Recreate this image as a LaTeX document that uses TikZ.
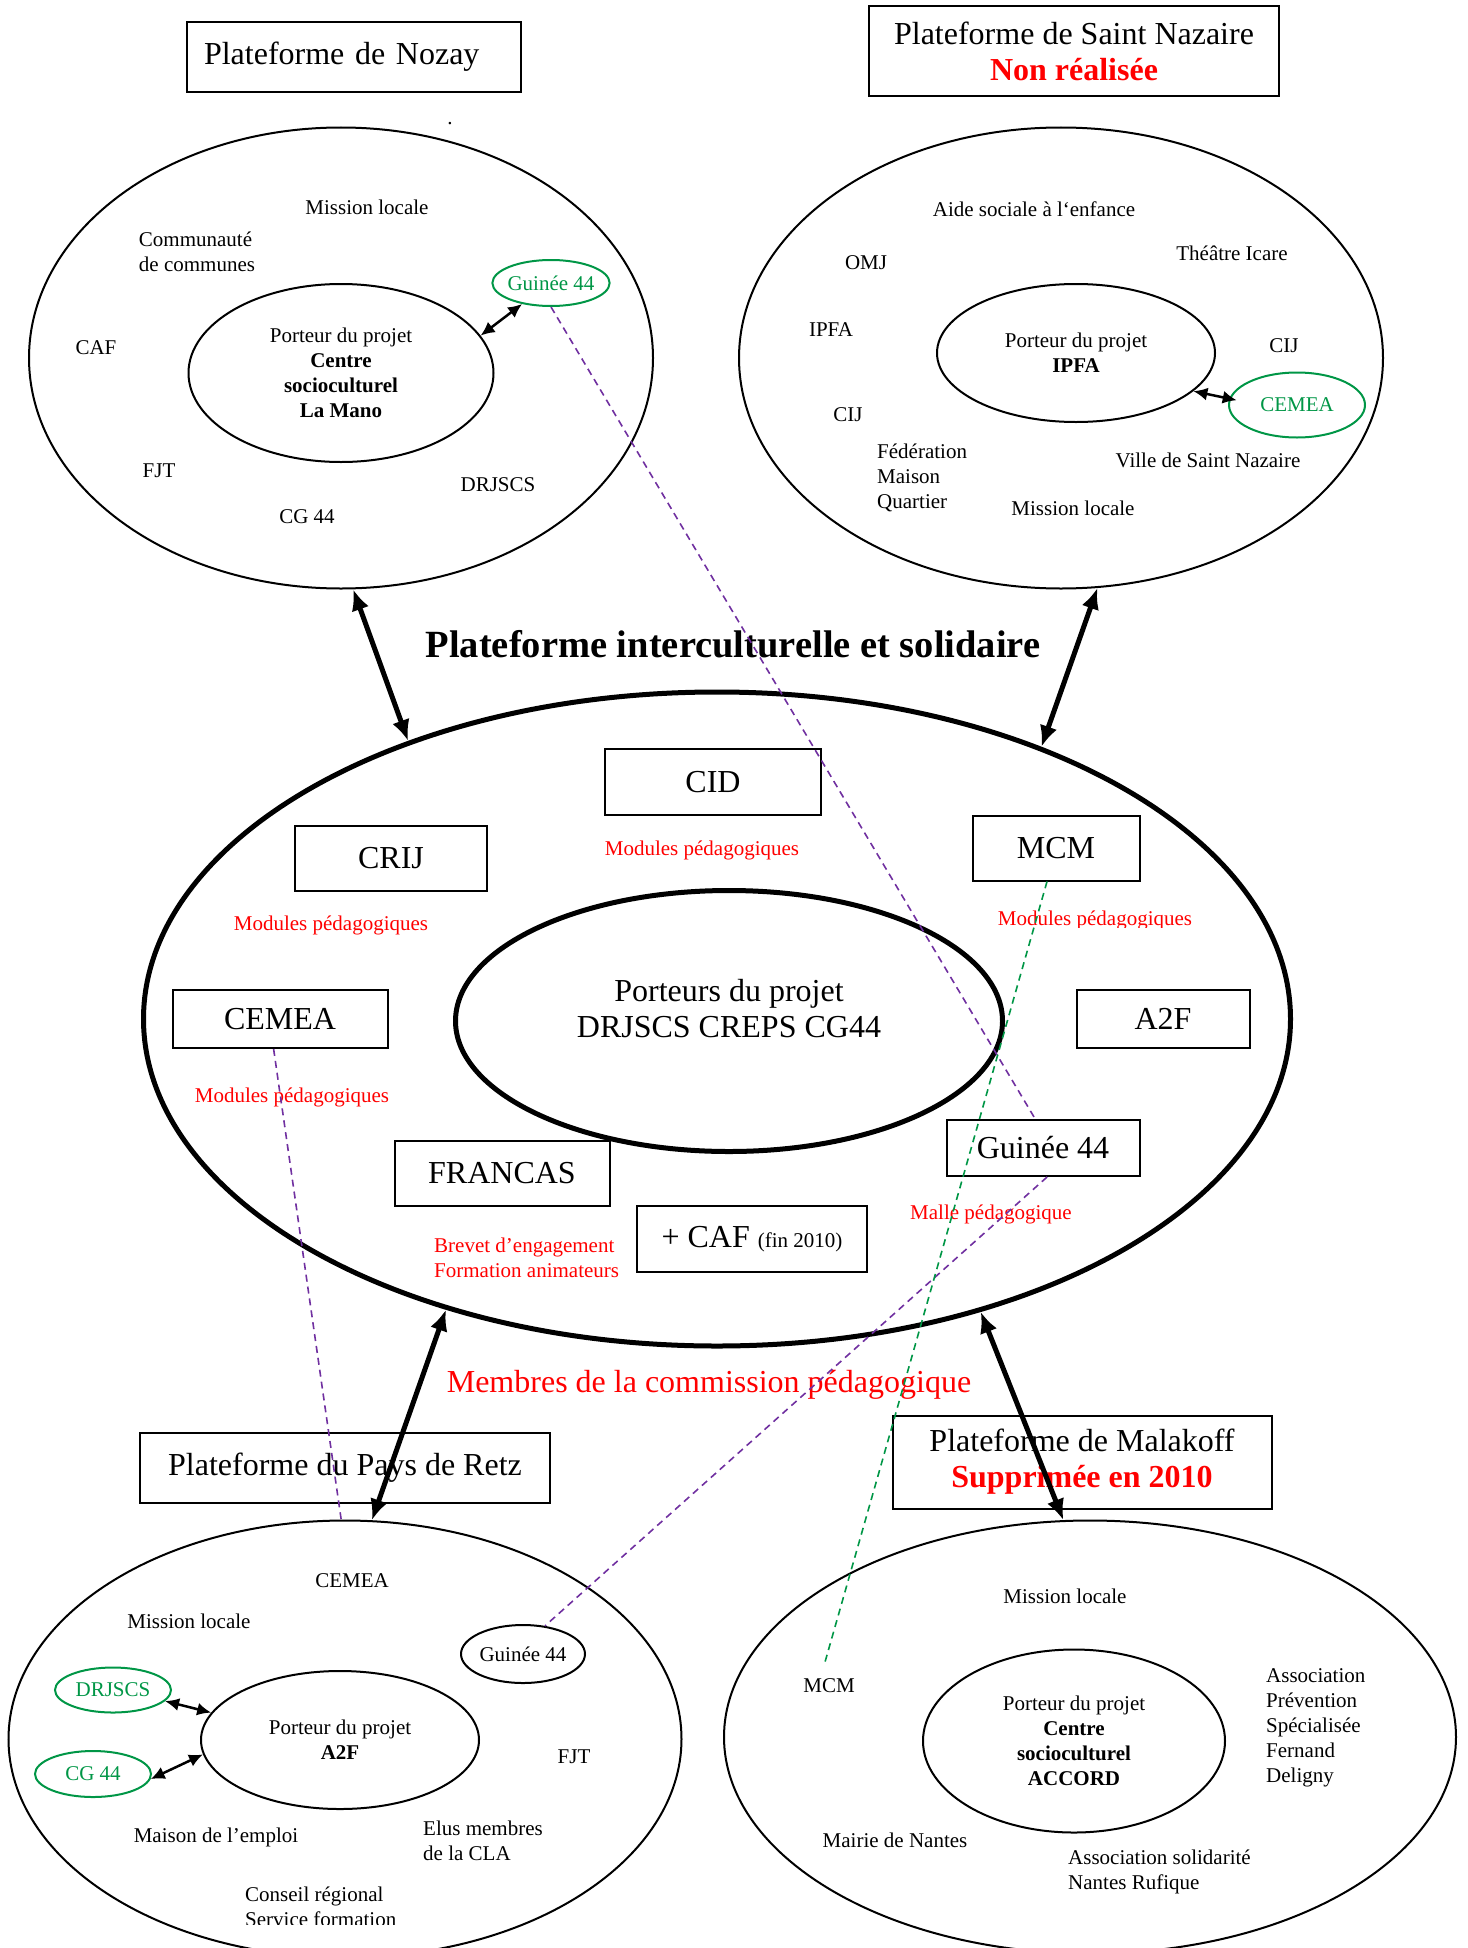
\documentclass[tikz,border=0pt]{standalone}
\usepackage{fontspec}
\setmainfont{Liberation Serif}
\usepackage{tikz}
\usetikzlibrary{shapes.geometric,arrows.meta,positioning}
\definecolor{myred}{RGB}{255,0,0}
\definecolor{mygreen}{RGB}{0,150,70}
\definecolor{mypurple}{RGB}{112,48,160}
\newcommand{\smalltxt}{\fontsize{21}{25}\selectfont}
\newcommand{\bigtxt}{\fontsize{32}{36}\selectfont}
\tikzstyle{platring}=[draw,ellipse,line width=2pt,inner sep=0pt]
\tikzstyle{porteur}=[draw,ellipse,line width=2pt,inner sep=0pt,align=center,font=\smalltxt]
\tikzstyle{member}=[draw,ellipse,line width=2pt,inner sep=0pt,inner xsep=-2pt,mygreen,font=\smalltxt]
\tikzstyle{partner}=[inner sep=0pt,font=\smalltxt,align=left]
\tikzstyle{platbox}=[draw,line width=2pt,align=center,font=\bigtxt]
\tikzstyle{centrebox}=[draw,line width=2pt,font=\bigtxt]
\tikzstyle{module}=[inner sep=0pt,font=\smalltxt,text=myred,align=left]
\tikzstyle{biglink}=[line width=5pt,{Latex[length=21pt,width=18pt]}-{Latex[length=21pt,width=18pt]}]
\tikzstyle{smalllink}=[line width=2.5pt,{Latex[length=14pt,width=13pt]}-{Latex[length=14pt,width=13pt]}]
\tikzstyle{dashlink}=[mypurple,line width=1.6pt,dash pattern=on 7pt off 5pt]

\begin{document}
\begin{tikzpicture}[x=1pt,y=-1pt]
\useasboundingbox (0,0) rectangle (1467,1948);

% Plateforme de Nozay
\node[platbox,minimum width=334pt,minimum height=70pt,text width=300pt,align=left] (noz-box) at (354,57) {Plateforme de Nozay};
\node[platring,minimum width=624pt,minimum height=461pt] (noz-out) at (341,358) {};
\node[porteur,minimum width=305pt,minimum height=178pt] (noz-in) at (341,373) {Porteur du projet\\\textbf{Centre}\\\textbf{socioculturel}\\\textbf{La Mano}};
\node[member,minimum height=46pt] (noz-gui) at (551,283) {Guinée 44};
\node[partner] (noz-ml) at (367,207) {Mission locale};
\node[partner] (noz-cc) at (197,252) {Communauté\\de communes};
\node[partner] (noz-caf) at (96,348) {CAF};
\node[partner] (noz-fjt) at (159,471) {FJT};
\node[partner] (noz-cg) at (307,517) {CG 44};
\node[partner] (noz-drj) at (498,485) {DRJSCS};
\node[partner] (noz-dot) at (450,124) {.};

% Plateforme de Saint Nazaire
\node[platbox,minimum width=410pt,minimum height=90pt] (naz-box) at (1074,51) {Plateforme de Saint Nazaire\\\textcolor{myred}{\textbf{Non réalisée}}};
\node[platring,minimum width=644pt,minimum height=461pt] (naz-out) at (1061,358) {};
\node[porteur,minimum width=278pt,minimum height=138pt] (naz-in) at (1076,353) {Porteur du projet\\\textbf{IPFA}};
\node[member,minimum width=136pt,minimum height=65pt] (naz-cem) at (1297,405) {CEMEA};
\node[partner] (naz-ase) at (1034,209) {Aide sociale à l‘enfance};
\node[partner] (naz-thea) at (1232,253) {Théâtre Icare};
\node[partner] (naz-omj) at (866,263) {OMJ};
\node[partner] (naz-ipfa) at (831,330) {IPFA};
\node[partner] (naz-cij1) at (1284,346) {CIJ};
\node[partner] (naz-cij2) at (848,415) {CIJ};
\node[partner,anchor=west] (naz-fmq) at (877,478) {Fédération\\Maison\\Quartier};
\node[partner] (naz-ville) at (1208,460) {Ville de Saint Nazaire};
\node[partner] (naz-ml) at (1073,508) {Mission locale};

% Plateforme interculturelle
\node[font=\fontsize{38.5}{44}\selectfont\bfseries] (titre) at (733,644) {Plateforme interculturelle et solidaire};
\node[platring,line width=5pt,minimum width=1147pt,minimum height=654pt] (cen-out) at (717,1019) {};
\node[platring,line width=5pt,minimum width=547pt,minimum height=261pt,
  label={[font=\bigtxt,align=center,yshift=12pt]center:{Porteurs du projet\\DRJSCS CREPS CG44}}] (cen-in) at (729,1021) {};
\node[centrebox,minimum width=192pt,minimum height=65pt] (cen-crij) at (391,858) {CRIJ};
\node[centrebox,minimum width=216pt,minimum height=66pt] (cen-cid) at (713,782) {CID};
\node[centrebox,minimum width=167pt,minimum height=65pt] (cen-mcm) at (1056,848) {MCM};
\node[centrebox,minimum width=215pt,minimum height=58pt] (cen-cemea) at (280,1019) {CEMEA};
\node[centrebox,minimum width=173pt,minimum height=58pt] (cen-a2f) at (1163,1019) {A2F};
\node[centrebox,minimum width=215pt,minimum height=65pt] (cen-fra) at (502,1173) {FRANCAS};
\node[centrebox,minimum width=193pt,minimum height=56pt] (cen-gui) at (1043,1148) {Guinée 44};
\node[centrebox,minimum width=230pt,minimum height=66pt] (cen-caf) at (752,1239) {+ CAF {\smalltxt (fin 2010)}};
\node[module] (mod-crij) at (331,925) {Modules pédagogiques};
\node[module] (mod-cid) at (702,850) {Modules pédagogiques};
\begin{scope}
  \clip (980,900) rectangle (1210,927);
  \node[module] (mod-mcm) at (1095,920) {Modules pédagogiques};
\end{scope}
\node[module] (mod-cem) at (292,1097) {Modules pédagogiques};
\node[module,anchor=west] (mod-fra) at (434,1258) {Brevet d’engagement\\Formation animateurs};
\node[module] (mod-gui) at (991,1214) {Malle pédagogique};
\node[module,font=\bigtxt] (membres) at (709,1385) {Membres de la commission pédagogique};

% Plateforme du Pays de Retz
\node[platbox,minimum width=410pt,minimum height=70pt] (ret-box) at (345,1468) {Plateforme du Pays de Retz};
\node[platring,minimum width=673pt,minimum height=437pt] (ret-out) at (345,1739) {};
\node[porteur,minimum width=278pt,minimum height=138pt] (ret-in) at (340,1740) {Porteur du projet\\\textbf{A2F}};
\node[member,black,minimum width=124pt,minimum height=58pt] (ret-gui) at (523,1654) {Guinée 44};
\node[member,minimum width=116pt,minimum height=45pt] (ret-drj) at (113,1690) {DRJSCS};
\node[member,minimum width=116pt,minimum height=46pt] (ret-cg) at (93,1774) {CG 44};
\node[partner] (ret-cem) at (352,1581) {CEMEA};
\node[partner] (ret-ml) at (189,1621) {Mission locale};
\node[partner] (ret-fjt) at (574,1757) {FJT};
\node[partner] (ret-me) at (216,1837) {Maison de l’emploi};
\node[partner,anchor=west] (ret-elus) at (423,1841) {Elus membres\\de la CLA};
\begin{scope}
  \clip (230,1870) rectangle (480,1924);
  \node[partner,anchor=west] (ret-cr) at (245,1907) {Conseil régional\\Service formation};
\end{scope}

% Plateforme de Malakoff
\node[platbox,minimum width=379pt,minimum height=93pt] (mal-box) at (1082,1462) {Plateforme de Malakoff\\\textcolor{myred}{\textbf{Supprimée en 2010}}};
\node[platring,minimum width=732pt,minimum height=433pt] (mal-out) at (1090,1737) {};
\node[porteur,minimum width=302pt,minimum height=183pt] (mal-in) at (1074,1741) {Porteur du projet\\\textbf{Centre}\\\textbf{socioculturel}\\\textbf{ACCORD}};
\node[partner] (mal-ml) at (1065,1596) {Mission locale};
\node[partner] (mal-mcm) at (829,1686) {MCM};
\node[partner,anchor=west] (mal-aps) at (1266,1728) {Association\\Prévention\\Spécialisée\\Fernand\\Deligny};
\node[partner] (mal-nantes) at (895,1840) {Mairie de Nantes};
\node[partner,anchor=west] (mal-asnr) at (1068,1872) {Association solidarité\\Nantes Rufique};
\coordinate (mcm-end) at (825,1662);

% liens
\draw[smalllink] (noz-in.15) -- (noz-gui.216);
\draw[smalllink] (naz-in.-18) -- ([xshift=8pt]naz-cem.176);
\draw[smalllink] (ret-drj.-12) -- (ret-in.168);
\draw[smalllink] (ret-cg.-5) -- (ret-in.186);
\draw[biglink] (noz-out.-87) -- (cen-out.138);
\draw[biglink] (naz-out.-81) -- (cen-out.40);
\draw[biglink] (cen-out.-133) -- (ret-out.83);
\draw[biglink] (cen-out.-48) -- (mal-out.97);
\draw[dashlink] (noz-gui.south) -- (cen-gui.105);
\draw[dashlink] (cen-gui.-82) -- (ret-gui.52);
\draw[dashlink] (cen-cemea.-102) -- (ret-out.91);
\draw[dashlink,mygreen] (cen-mcm.-105) -- (mcm-end);
\end{tikzpicture}
\end{document}
